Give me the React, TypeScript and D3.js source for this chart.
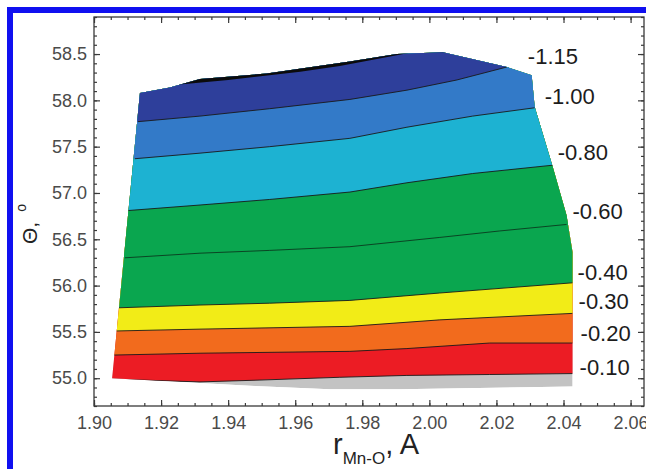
import React, { useEffect, useRef } from "react";
import * as d3 from "d3";

type Pt = [number, number];

// axis ticks
const xTicks = [1.9, 1.92, 1.94, 1.96, 1.98, 2.0, 2.02, 2.04, 2.06];
const yTicks = [55.0, 55.5, 56.0, 56.5, 57.0, 57.5, 58.0, 58.5];

// outline of the computed (r, theta) region
const boundary: Pt[] = [
  [1.9054, 55.0], [1.9137, 58.08], [1.9226, 58.14], [1.9316, 58.23],
  [1.9515, 58.29], [1.9763, 58.42], [1.9903, 58.5], [2.004, 58.52],
  [2.0231, 58.36], [2.0305, 58.27], [2.0314, 57.93], [2.0368, 57.28],
  [2.0409, 56.76], [2.0427, 56.36], [2.0427, 54.91], [1.9912, 54.88],
  [1.9703, 54.88], [1.945, 54.92],
];

// thin black sliver at the top (lowest values)
const cTop: Pt[] = [[1.924, 58.165], [1.94, 58.22], [1.9615, 58.31], [1.9733, 58.37], [1.995, 58.52]];

// contour lines
const c115: Pt[] = [[1.9131, 57.77], [1.9316, 57.83], [1.9524, 57.91], [1.9763, 58.01], [1.9933, 58.11], [2.0082, 58.22], [2.0231, 58.36]];
const c100: Pt[] = [[1.9122, 57.37], [1.9316, 57.43], [1.9524, 57.5], [1.9763, 57.59], [1.9933, 57.71], [2.0129, 57.83], [2.0314, 57.92]];
const c080: Pt[] = [[1.9101, 56.81], [1.9316, 56.87], [1.9524, 56.93], [1.9763, 57.01], [1.9933, 57.11], [2.0129, 57.21], [2.0368, 57.3]];
const c060: Pt[] = [[1.9092, 56.3], [1.9316, 56.35], [1.9524, 56.38], [1.9763, 56.42], [2.0031, 56.52], [2.021, 56.59], [2.0409, 56.66]];
const c040: Pt[] = [[1.9072, 55.76], [1.9316, 55.79], [1.9524, 55.81], [1.9763, 55.84], [2.0031, 55.92], [2.0427, 56.03]];
const c030: Pt[] = [[1.9066, 55.51], [1.9316, 55.53], [1.9763, 55.56], [2.0031, 55.63], [2.0427, 55.7]];
const c020: Pt[] = [[1.906, 55.25], [1.9316, 55.27], [1.9763, 55.29], [1.9933, 55.32], [2.018, 55.38], [2.0427, 55.38]];
const c010: Pt[] = [[1.9054, 54.99], [1.9316, 54.96], [1.9495, 54.98], [1.9733, 55.01], [1.9933, 55.03], [2.018, 55.04], [2.0427, 55.05]];

const levelLabels = ["-1.15", "-1.00", "-0.80", "-0.60", "-0.40", "-0.30", "-0.20", "-0.10"];
const levelLines = [c115, c100, c080, c060, c040, c030, c020, c010];

const App: React.FC = () => {
  const ref = useRef<SVGSVGElement | null>(null);

  useEffect(() => {
    const width = 646;
    const height = 469;
    const left = 94, right = 644, top = 17, bottom = 406;
    const font = "Arial, 'Liberation Sans', Helvetica, sans-serif";

    const svg = d3.select(ref.current);
    svg.selectAll("*").remove();
    svg.attr("width", width).attr("height", height);

    svg.append("rect").attr("width", width).attr("height", height).attr("fill", "#fff");

    const x = d3.scaleLinear().domain([1.9, 2.064]).range([left, right]);
    const y = d3.scaleLinear().domain([54.7, 58.9]).range([bottom, top]);

    // clip to the computed region
    svg
      .append("clipPath")
      .attr("id", "region")
      .append("path")
      .attr("d", d3.line<Pt>().x((d) => x(d[0])).y((d) => y(d[1]))(boundary) + "Z");

    const g = svg.append("g").attr("clip-path", "url(#region)");

    g.append("path")
      .attr("d", d3.line<Pt>().x((d) => x(d[0])).y((d) => y(d[1]))(boundary) + "Z")
      .attr("fill", "#c3c3c3");

    const extend = (pts: Pt[]): Pt[] => [
      [x.domain()[0], pts[0][1]],
      ...pts,
      [x.domain()[1], pts[pts.length - 1][1]],
    ];

    const above = d3
      .area<Pt>()
      .x((d) => x(d[0]))
      .y0(y(y.domain()[1]))
      .y1((d) => y(d[1]));

    // regions above each line, painted from the bottom up
    const fills: [Pt[], string][] = [
      [c010, "#ec1c24"],
      [c020, "#f26b1d"],
      [c030, "#f2ec17"],
      [c040, "#0aa64f"],
      [c060, "#0aa64f"],
      [c080, "#1db2d2"],
      [c100, "#337ac8"],
      [c115, "#2e3f9b"],
      [cTop, "#0b0b0b"],
    ];
    fills.forEach(([pts, color]) => {
      g.append("path").attr("d", above(extend(pts))).attr("fill", color);
    });

    const line = d3.line<Pt>().x((d) => x(d[0])).y((d) => y(d[1]));
    levelLines.forEach((pts, i) => {
      g.append("path")
        .attr("d", line(pts))
        .attr("fill", "none")
        .attr("stroke", i === 3 ? "#0b3a1f" : "#1a1a1a")
        .attr("stroke-width", 0.9);
    });

    // contour labels next to where each line leaves the region
    const labelOffsets: Pt[] = [[21, -3], [10, -4], [5, -5], [6, -5], [5, -3], [6, -4], [8, -2], [7, 1]];
    levelLines.forEach((pts, i) => {
      const end = pts[pts.length - 1];
      svg
        .append("text")
        .attr("x", x(end[0]) + labelOffsets[i][0])
        .attr("y", y(end[1]) + labelOffsets[i][1])
        .attr("font-family", font)
        .attr("font-size", 22)
        .attr("fill", "#1c1c1c")
        .text(levelLabels[i]);
    });

    // axes
    const xMinor = d3.range(0, 33).map((i) => 1.9 + i * 0.005);
    const yMinor = d3.range(0, 43).map((i) => 54.7 + i * 0.1);
    const axisColor = "#3a3a3a";

    const styleAxis = (sel: d3.Selection<SVGGElement, unknown, null, undefined>) => {
      sel.select(".domain").remove();
      sel.selectAll(".tick line").attr("stroke", axisColor).attr("stroke-width", 1.2);
      sel
        .selectAll(".tick text")
        .attr("fill", "#4a4a4a")
        .attr("font-size", 18)
        .attr("font-family", font);
    };

    const addAxis = (axis: d3.Axis<d3.NumberValue>, tx: number, ty: number) => {
      const a = svg.append("g").attr("transform", `translate(${tx},${ty})`).call(axis);
      styleAxis(a);
      return a;
    };

    // minor ticks
    addAxis(d3.axisBottom(x).tickValues(xMinor).tickSize(-3).tickFormat(() => ""), 0, bottom);
    addAxis(d3.axisTop(x).tickValues(xMinor).tickSize(-3).tickFormat(() => ""), 0, top);
    addAxis(d3.axisLeft(y).tickValues(yMinor).tickSize(-3).tickFormat(() => ""), left, 0);
    addAxis(d3.axisRight(y).tickValues(yMinor).tickSize(-3).tickFormat(() => ""), right, 0);

    // major ticks
    addAxis(d3.axisBottom(x).tickValues(xTicks).tickSize(-6).tickPadding(10).tickFormat(d3.format(".2f")), 0, bottom);
    addAxis(d3.axisTop(x).tickValues(xTicks).tickSize(-6).tickFormat(() => ""), 0, top);
    addAxis(d3.axisLeft(y).tickValues(yTicks).tickSize(-6).tickPadding(7).tickFormat(d3.format(".1f")), left, 0);
    addAxis(d3.axisRight(y).tickValues(yTicks).tickSize(-6).tickFormat(() => ""), right, 0);

    svg
      .append("rect")
      .attr("x", left)
      .attr("y", top)
      .attr("width", right - left)
      .attr("height", bottom - top)
      .attr("fill", "none")
      .attr("stroke", axisColor)
      .attr("stroke-width", 1.3);

    // x axis title
    const xt = svg
      .append("text")
      .attr("x", 333)
      .attr("y", 454)
      .attr("font-family", font)
      .attr("font-size", 29)
      .attr("fill", "#222");
    xt.append("tspan").text("r");
    xt.append("tspan").attr("font-size", 17).attr("dy", 10).text("Mn-O");
    xt.append("tspan").attr("dy", -10).text(", A");

    // y axis title
    const yt = svg
      .append("text")
      .attr("transform", "translate(37,244) rotate(-90)")
      .attr("font-family", font)
      .attr("font-size", 21)
      .attr("fill", "#222");
    yt.append("tspan").text("Θ,");
    yt.append("tspan").attr("font-size", 14).attr("dx", 10).attr("dy", -11).text("o");

    // blue frame of the figure
    svg
      .append("path")
      .attr("d", `M10,${height} V10 H${width}`)
      .attr("fill", "none")
      .attr("stroke", "#1010f0")
      .attr("stroke-width", 6);
  }, []);

  return (
    <div style={{ position: "absolute", left: 0, top: 0 }}>
      <svg ref={ref} style={{ display: "block" }}></svg>
    </div>
  );
};

export default App;
